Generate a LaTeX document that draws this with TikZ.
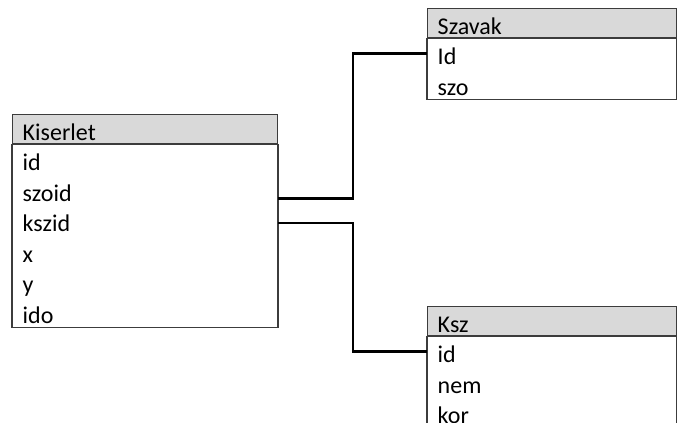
\documentclass[tikz,border=0pt]{standalone}
\usepackage{fontspec}
\setmainfont{Carlito}
\usetikzlibrary{positioning}
\definecolor{headgray}{RGB}{217,217,217}
\definecolor{framegray}{RGB}{60,60,60}
\tikzset{
    fieldrow/.style={anchor=north west, text width=#1, align=left,
        inner xsep=7.5pt, inner ysep=0pt, minimum height=22.5pt,
        text height=16.5pt, text depth=0pt,
        font=\fontsize{18}{21}\selectfont},
    tabhead/.style={fieldrow=#1, draw=framegray, line width=1.1pt,
        fill=headgray, minimum height=21.75pt},
    tabline/.style={draw=framegray, line width=1.1pt},
    link/.style={draw=black, line width=1.9pt}
}
\begin{document}
\begin{tikzpicture}[x=0.75pt,y=-0.75pt]
        \clip (0,0) rectangle (677,422);
        % Kiserlet
        \node[tabhead=183.75pt] (k-head) at (12,114) {Kiserlet};
        \node[fieldrow=183.75pt] (k-id) [below=0pt of k-head] {id};
        \node[fieldrow=183.75pt] (k-szoid) [below=0pt of k-id] {szoid};
        \node[fieldrow=183.75pt] (k-kszid) [below=0pt of k-szoid] {kszid};
        \node[fieldrow=183.75pt] (k-x) [below=0pt of k-kszid] {x};
        \node[fieldrow=183.75pt] (k-y) [below=0pt of k-x] {y};
        \node[fieldrow=183.75pt] (k-ido) [below=0pt of k-y] {ido};
        \draw[tabline] (k-head.south west) rectangle (k-ido.south east);
        % Szavak
        \node[tabhead=171.75pt] (s-head) at (427,8) {Szavak};
        \node[fieldrow=171.75pt] (s-id) [below=0pt of s-head] {Id};
        \node[fieldrow=171.75pt] (s-szo) [below=0pt of s-id] {szo};
        \draw[tabline] (s-head.south west) rectangle (s-szo.south east);
        % Ksz
        \node[tabhead=171.75pt] (ks-head) at (427,306) {Ksz};
        \node[fieldrow=171.75pt] (ks-id) [below=0pt of ks-head] {id};
        \node[fieldrow=171.75pt] (ks-nem) [below=0pt of ks-id] {nem};
        \node[fieldrow=171.75pt] (ks-kor) [below=0pt of ks-nem] {kor};
        \draw[tabline] (ks-head.south west) rectangle ([yshift=-40pt]ks-kor.south east);
        % kapcsolatok
        \draw[link] ([yshift=-6pt]k-szoid.east) -- ++(75,0) |- (s-id.west);
        \draw[link] ([yshift=-1.5pt]k-kszid.east) -- ++(75,0) |- (ks-id.west);
\end{tikzpicture}
\end{document}
